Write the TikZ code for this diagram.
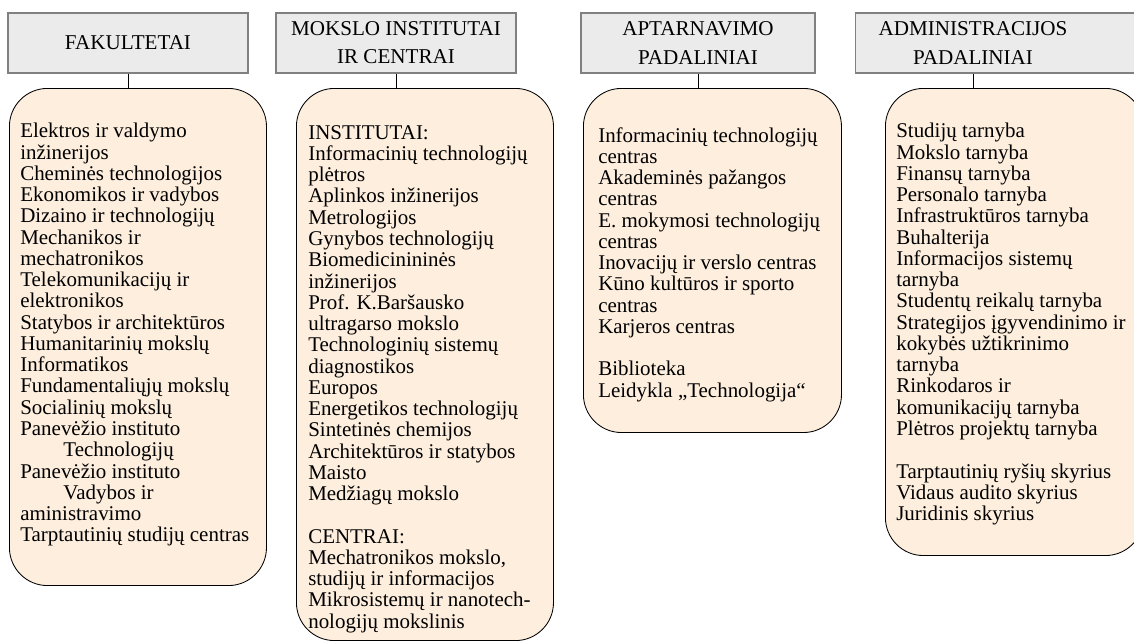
\documentclass[tikz,border=0pt]{standalone}
\usepackage{fontspec}
\setmainfont{Liberation Serif}
\usetikzlibrary{positioning}
\definecolor{headgray}{RGB}{235,235,235}
\definecolor{headline}{RGB}{128,128,128}
\definecolor{listfill}{RGB}{253,238,222}

\begin{document}
\begin{tikzpicture}[
    x=0.025cm, y=-0.025cm,
    headbox/.style = {
        rectangle, draw=headline, line width=0.9pt, fill=headgray,
        minimum height=1.5cm, align=center,
        font=\fontsize{15}{20}\selectfont
    },
    listbox/.style = {
        rectangle, rounded corners=0.95cm, draw, line width=0.6pt,
        fill=listfill, inner sep=0pt, anchor=north west
    },
    itemtext/.style = {
        inner sep=0pt, align=left,
        font=\fontsize{14.9}{15.12}\selectfont
    },
    link/.style = {draw, line width=0.6pt}
]
\useasboundingbox (0,0) rectangle (1134,641);

% Headers
\node[headbox, minimum width=6cm] (fak) at (128,43) {FAKULTETAI};
\node[headbox, minimum width=6cm] (inst) at (396,43) {MOKSLO INSTITUTAI\\IR CENTRAI};
\node[headbox, minimum width=5.85cm] (apt) at (698,43) {APTARNAVIMO\\PADALINIAI};
\node[headbox, minimum width=7.4cm, anchor=west] (adm) at (855,43) {};
\node[align=center, font=\fontsize{15}{20}\selectfont] (admtext) at (973,43) {ADMINISTRACIJOS\\PADALINIAI};

% Rounded boxes
\node[listbox, minimum width=6.425cm, minimum height=12.425cm] (fakl) at (9,88) {};
\node[listbox, minimum width=6.425cm, minimum height=13.8cm] (instl) at (296,88) {};
\node[listbox, minimum width=6.45cm, minimum height=8.6cm] (aptl) at (583,88) {};
\node[listbox, minimum width=6.45cm, minimum height=11.675cm] (adml) at (885,88) {};

% Lists
\node[itemtext, below right=0.875cm and 0.275cm of fakl.north west] (fakt) {%
Elektros ir valdymo\\ inžinerijos\\ Cheminės technologijos\\ Ekonomikos ir vadybos\\
Dizaino ir technologijų\\ Mechanikos ir\\ mechatronikos\\ Telekomunikacijų ir\\
elektronikos\\ Statybos ir architektūros\\ Humanitarinių mokslų\\ Informatikos\\
Fundamentaliųjų mokslų\\ Socialinių mokslų\\ Panevėžio instituto\\
\hspace*{1.08cm}Technologijų\\ Panevėžio instituto\\ \hspace*{1.08cm}Vadybos ir\\
aministravimo\\ Tarptautinių studijų centras};

\node[itemtext, below right=0.925cm and 0.3cm of instl.north west] (instt) {%
INSTITUTAI:\\ Informacinių technologijų\\ plėtros\\ Aplinkos inžinerijos\\
Metrologijos\\ Gynybos technologijų\\ Biomedicinininės\\ inžinerijos\\
Prof. K.Baršausko\\ ultragarso mokslo\\ Technologinių sistemų\\ diagnostikos\\
Europos\\ Energetikos technologijų\\ Sintetinės chemijos\\ Architektūros ir statybos\\
Maisto\\ Medžiagų mokslo\\[15.12pt] CENTRAI:\\ Mechatronikos mokslo,\\
studijų ir informacijos\\ Mikrosistemų ir nanotech-\\ nologijų mokslinis};

\node[itemtext, below right=0.975cm and 0.375cm of aptl.north west] (aptt) {%
Informacinių technologijų\\ centras\\ Akademinės pažangos\\ centras\\
E. mokymosi technologijų\\ centras\\ Inovacijų ir verslo centras\\
Kūno kultūros ir sporto\\ centras\\ Karjeros centras\\[15.12pt]
Biblioteka\\ Leidykla „Technologija“};

\node[itemtext, below right=0.875cm and 0.275cm of adml.north west] (admt) {%
Studijų tarnyba\\ Mokslo tarnyba\\ Finansų tarnyba\\ Personalo tarnyba\\
Infrastruktūros tarnyba\\ Buhalterija\\ Informacijos sistemų\\ tarnyba\\
Studentų reikalų tarnyba\\ Strategijos įgyvendinimo ir\\ kokybės užtikrinimo\\
tarnyba\\ Rinkodaros ir\\ komunikacijų tarnyba\\ Plėtros projektų tarnyba\\[15.12pt]
Tarptautinių ryšių skyrius\\ Vidaus audito skyrius\\ Juridinis skyrius};

% Links
\draw[link] (fak.south) -- (fak.south |- fakl.north);
\draw[link] (inst.south) -- (inst.south |- instl.north);
\draw[link] (apt.south) -- (apt.south |- aptl.north);
\draw[link] (admtext |- adm.south) -- (admtext |- adml.north);

\end{tikzpicture}
\end{document}
